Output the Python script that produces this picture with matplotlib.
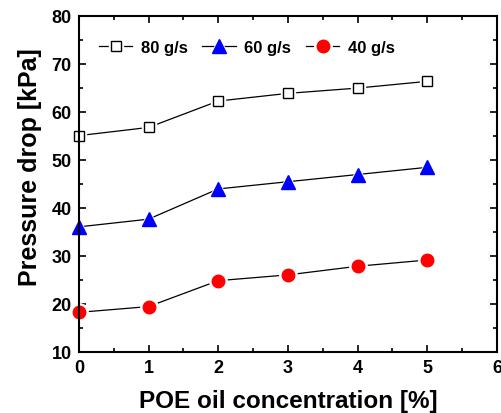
import matplotlib.pyplot as plt
from matplotlib.ticker import MultipleLocator
from matplotlib.legend_handler import HandlerTuple

plt.rcParams['font.family'] = ['Liberation Sans', 'DejaVu Sans']
plt.rcParams['font.weight'] = 'bold'

conc = [0, 1, 2, 3, 4, 5]
dp_80 = [55.0, 56.7, 62.2, 63.8, 64.9, 66.3]
dp_60 = [36.0, 37.6, 43.9, 45.4, 46.9, 48.4]
dp_40 = [18.2, 19.4, 24.8, 26.0, 27.8, 29.1]

fig = plt.figure(figsize=(5.02, 4.14), dpi=100)
ax = fig.add_axes([0.157, 0.148, 0.833, 0.812])

series = [
    (dp_80, 's', 7, 'white', 'black', '80 g/s'),
    (dp_60, '^', 10, 'blue', 'blue', '60 g/s'),
    (dp_40, 'o', 9, 'red', 'red', '40 g/s'),
]
handles, labels = [], []
for y, mk, ms, fc, ec, lab in series:
    ln, = ax.plot(conc, y, '-', color='black', lw=0.9, zorder=2)
    # white halo so the connecting line stops short of each symbol
    halo, = ax.plot(conc, y, mk, ls='none', ms=ms + 3.5, mfc='white', mec='white',
                    zorder=3, clip_on=False)
    pt, = ax.plot(conc, y, mk, ls='none', ms=ms, mfc=fc, mec=ec, mew=1.0,
                  zorder=4, clip_on=False)
    handles.append((ln, halo, pt))
    labels.append(lab)

ax.set_xlim(0, 6)
ax.set_ylim(10, 80)
ax.xaxis.set_major_locator(MultipleLocator(1))
ax.xaxis.set_minor_locator(MultipleLocator(0.5))
ax.yaxis.set_major_locator(MultipleLocator(10))
ax.yaxis.set_minor_locator(MultipleLocator(5))
ax.tick_params(which='both', direction='in', top=True, right=True, width=1.2,
               labelsize=13, pad=5)
ax.tick_params(which='major', length=5)
ax.tick_params(which='minor', length=3)
for lbl in ax.get_xticklabels() + ax.get_yticklabels():
    lbl.set_fontweight('bold')
for s in ax.spines.values():
    s.set_linewidth(1.5)
    s.set_zorder(5)

ax.set_xlabel('POE oil concentration [%]', fontsize=17.5, fontweight='bold', labelpad=9.5)
ax.set_ylabel('Pressure drop [kPa]', fontsize=18, fontweight='bold')
ax.yaxis.set_label_coords(-0.089, 0.553)

ax.legend(handles, labels, handler_map={tuple: HandlerTuple(ndivide=1, pad=0)},
          loc='upper left', bbox_to_anchor=(0.02, 0.962), ncol=3, frameon=False,
          fontsize=12, handlelength=2.0, handletextpad=0.5, columnspacing=0.9,
          borderaxespad=0.3)

fig.savefig('out.png', dpi=100)
